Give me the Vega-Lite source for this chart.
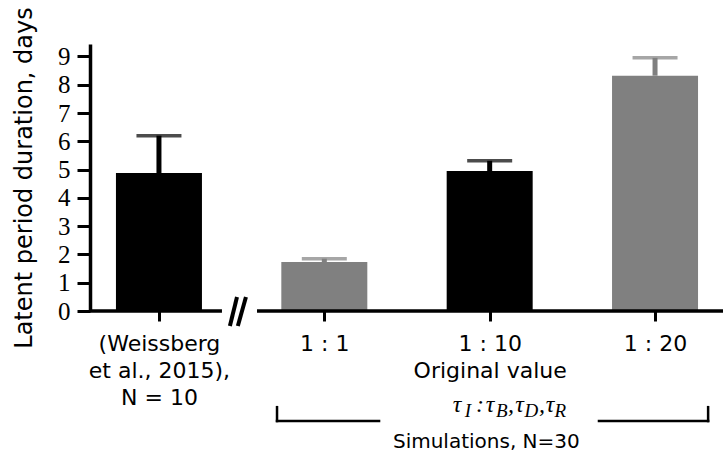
{
  "$schema": "https://vega.github.io/schema/vega-lite/v6.json",
  "width": 633,
  "height": 267,
  "autosize": {"type": "none"},
  "padding": {"left": 90, "top": 44, "right": 0, "bottom": 143},
  "config": {
    "view": {"stroke": null},
    "axisX": {
      "domain": false, "grid": false, "tickCount": 4,
      "tickSize": 10, "tickWidth": 3, "tickColor": "black",
      "labelFont": "DejaVu Sans", "labelFontSize": 22, "labelColor": "black",
      "labelPadding": 12, "labelLineHeight": 27, "labelFlush": false, "labelOverlap": false,
      "labelExpr": "datum.value == 0 ? ['(Weissberg', 'et al., 2015),', 'N = 10'] : datum.value == 1 ? '1 : 1' : datum.value == 2 ? ['1 : 10', 'Original value'] : '1 : 20'"
    },
    "axisY": {
      "grid": false, "tickCount": 10,
      "titleFont": "DejaVu Sans", "titleFontSize": 24, "titleFontWeight": "normal", "titleColor": "black",
      "titlePadding": 21,
      "labelFont": "Liberation Serif", "labelFontSize": 25, "labelColor": "black", "labelPadding": 7,
      "labelOverlap": false, "labelFlush": false,
      "tickSize": 13, "tickWidth": 3, "tickColor": "black",
      "domainWidth": 3.5, "domainColor": "black"
    }
  },
  "datasets": {
    "bars": [
      {"pos": 0, "group": "Weissberg et al., 2015", "kind": "experiment", "mean": 4.88, "upper": 6.2},
      {"pos": 1, "group": "1 : 1", "kind": "variant", "mean": 1.73, "upper": 1.85},
      {"pos": 2, "group": "1 : 10", "kind": "original", "mean": 4.95, "upper": 5.31},
      {"pos": 3, "group": "1 : 20", "kind": "variant", "mean": 8.32, "upper": 8.95}
    ],
    "axisline": [
      {"x": -0.417, "x2": 0.381, "y": 0, "y2": 0},
      {"x": 0.593, "x2": 3.411, "y": 0, "y2": 0}
    ],
    "breaks": [
      {"x": 0.429, "x2": 0.472, "y": -0.531, "y2": 0.495},
      {"x": 0.477, "x2": 0.526, "y": -0.531, "y2": 0.495}
    ],
    "bracket": [
      {"x": 0.714, "x2": 0.714, "y": -3.40, "y2": -3.89},
      {"x": 0.714, "x2": 1.331, "y": -3.89, "y2": -3.89},
      {"x": 2.661, "x2": 3.321, "y": -3.89, "y2": -3.89},
      {"x": 3.321, "x2": 3.321, "y": -3.40, "y2": -3.89}
    ],
    "mathmain": [
      {"x": 1.802, "y": -3.571, "text": "τ"},
      {"x": 1.942, "y": -3.571, "text": ":"},
      {"x": 2.002, "y": -3.571, "text": "τ"},
      {"x": 2.129, "y": -3.571, "text": ","},
      {"x": 2.180, "y": -3.571, "text": "τ"},
      {"x": 2.317, "y": -3.571, "text": ","},
      {"x": 2.365, "y": -3.571, "text": "τ"}
    ],
    "mathsub": [
      {"x": 1.868, "y": -3.748, "text": "I"},
      {"x": 2.074, "y": -3.748, "text": "B"},
      {"x": 2.252, "y": -3.748, "text": "D"},
      {"x": 2.427, "y": -3.748, "text": "R"}
    ],
    "simnote": [{"x": 1.98, "y": -4.62, "text": "Simulations, N=30"}]
  },
  "layer": [
    {
      "data": {"name": "bars"},
      "mark": {"type": "bar", "size": 86},
      "encoding": {
        "x": {
          "field": "pos", "type": "quantitative",
          "scale": {"domain": [-0.417, 3.411], "nice": false, "zero": false, "padding": 0},
          "axis": {"title": null, "labelFont": "DejaVu Sans", "labelFontSize": 22}
        },
        "y": {
          "field": "mean", "type": "quantitative",
          "scale": {"domain": [0, 9.44], "nice": false, "padding": 0},
          "axis": {"title": "Latent period duration, days", "labelFont": "Liberation Serif", "labelFontSize": 25, "titleFont": "DejaVu Sans", "titleFontSize": 24}
        },
        "color": {
          "field": "kind", "type": "nominal",
          "scale": {"domain": ["experiment", "variant", "original"], "range": ["black", "#808080", "black"]},
          "legend": null
        }
      }
    },
    {
      "data": {"name": "bars"},
      "mark": {"type": "rule", "strokeWidth": 5},
      "encoding": {
        "x": {"field": "pos", "type": "quantitative"},
        "y": {"field": "mean", "type": "quantitative"},
        "y2": {"field": "upper"},
        "color": {"field": "kind", "type": "nominal", "legend": null}
      }
    },
    {
      "data": {"name": "bars"},
      "mark": {"type": "tick", "orient": "horizontal", "size": 45, "thickness": 3.5},
      "encoding": {
        "x": {"field": "pos", "type": "quantitative"},
        "y": {"field": "upper", "type": "quantitative"},
        "color": {"field": "kind", "type": "nominal", "legend": null}
      }
    },
    {
      "data": {"name": "axisline"},
      "mark": {"type": "rule", "strokeWidth": 3.5, "color": "black"},
      "encoding": {
        "x": {"field": "x", "type": "quantitative"},
        "x2": {"field": "x2"},
        "y": {"field": "y", "type": "quantitative"},
        "y2": {"field": "y2"}
      }
    },
    {
      "data": {"name": "breaks"},
      "mark": {"type": "rule", "strokeWidth": 4, "color": "black"},
      "encoding": {
        "x": {"field": "x", "type": "quantitative"},
        "x2": {"field": "x2"},
        "y": {"field": "y", "type": "quantitative"},
        "y2": {"field": "y2"}
      }
    },
    {
      "data": {"name": "bracket"},
      "mark": {"type": "rule", "strokeWidth": 2.5, "color": "black", "strokeCap": "square"},
      "encoding": {
        "x": {"field": "x", "type": "quantitative"},
        "x2": {"field": "x2"},
        "y": {"field": "y", "type": "quantitative"},
        "y2": {"field": "y2"}
      }
    },
    {
      "data": {"name": "mathmain"},
      "mark": {"type": "text", "font": "Liberation Serif", "fontStyle": "italic", "fontSize": 24, "color": "black", "baseline": "alphabetic", "align": "center"},
      "encoding": {
        "x": {"field": "x", "type": "quantitative"},
        "y": {"field": "y", "type": "quantitative"},
        "text": {"field": "text"}
      }
    },
    {
      "data": {"name": "mathsub"},
      "mark": {"type": "text", "font": "Liberation Serif", "fontStyle": "italic", "fontSize": 19, "color": "black", "baseline": "alphabetic", "align": "center"},
      "encoding": {
        "x": {"field": "x", "type": "quantitative"},
        "y": {"field": "y", "type": "quantitative"},
        "text": {"field": "text"}
      }
    },
    {
      "data": {"name": "simnote"},
      "mark": {"type": "text", "font": "DejaVu Sans", "fontSize": 20, "color": "black", "baseline": "middle", "align": "center"},
      "encoding": {
        "x": {"field": "x", "type": "quantitative"},
        "y": {"field": "y", "type": "quantitative"},
        "text": {"field": "text"}
      }
    }
  ]
}
